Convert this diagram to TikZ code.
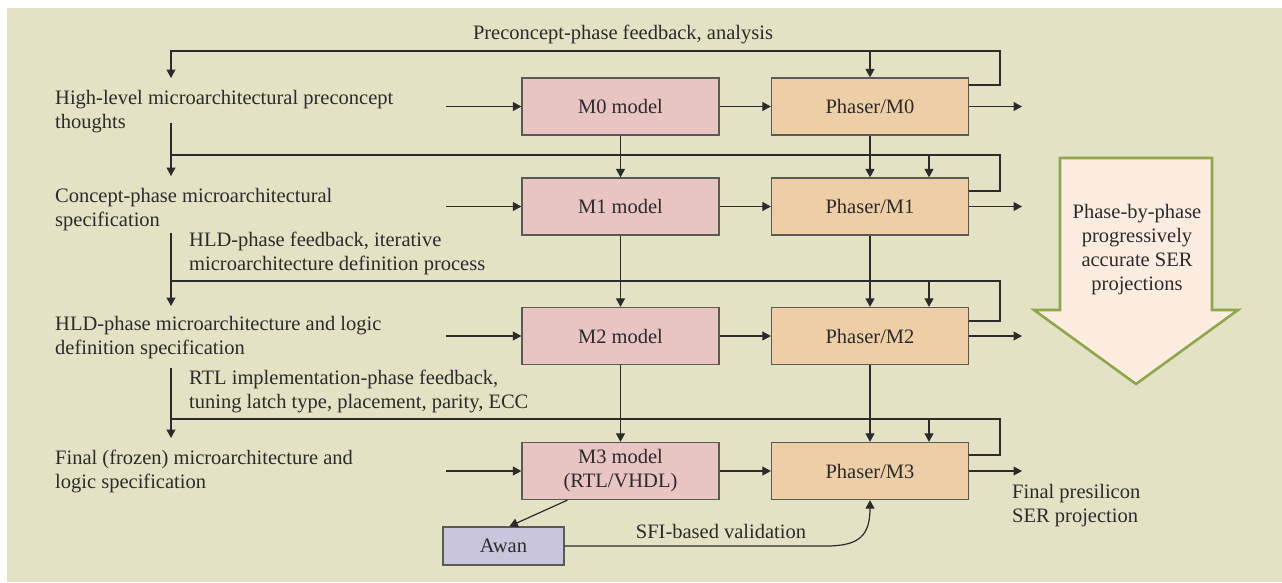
\documentclass[tikz,border=0pt]{standalone}
\usepackage{fontspec}
\setmainfont{Liberation Serif}
\usetikzlibrary{arrows.meta}
\definecolor{bgc}{HTML}{E3E2C5}
\definecolor{modelc}{HTML}{E8C4C3}
\definecolor{phasec}{HTML}{EECEA6}
\definecolor{awanc}{HTML}{C9C5DD}
\definecolor{bigfill}{HTML}{FDEDE1}
\definecolor{bigedge}{HTML}{8DA84A}
\definecolor{ink}{HTML}{2B2B2B}
\definecolor{edgec}{HTML}{5A5A55}
\begin{document}
\begin{tikzpicture}[x=1pt,y=-1pt,
  font=\fontsize{20.5}{24}\selectfont,
  box/.style={draw=edgec, line width=1.3pt, minimum width=197pt, minimum height=57pt, inner sep=0pt, align=center, text=ink},
  model/.style={box, fill=modelc},
  phaser/.style={box, fill=phasec},
  lbl/.style={align=left, anchor=west, inner sep=0pt, text=ink},
  ctr/.style={align=center, inner sep=0pt, text=ink},
  ln/.style={draw=ink, line width=1.2pt},
  arr/.style={ln, -{Triangle[length=8.5pt,width=9pt]}}]
\useasboundingbox (0,0) rectangle (1282,582);
\fill[white] (0,0) rectangle (1282,582);
\fill[bgc] (7,8) rectangle (1282,582);

% big arrow
\draw[draw=bigedge, fill=bigfill, line width=2.6pt, line join=miter]
  (1060,158) -- (1212,158) -- (1212,310) -- (1238,310) -- (1136,384) -- (1034,310) -- (1060,310) -- cycle;
\node[ctr] (big) at (1137,250) {Phase-by-phase\\progressively\\accurate SER\\projections};

% boxes
\node[model] (m0) at (620.5,106.5) {M0 model};
\node[phaser] (p0) at (870,106.5) {Phaser/M0};
\node[model] (m1) at (620.5,206.5) {M1 model};
\node[phaser] (p1) at (870,206.5) {Phaser/M1};
\node[model] (m2) at (620.5,336) {M2 model};
\node[phaser] (p2) at (870,336) {Phaser/M2};
\node[model] (m3) at (620.5,471) {M3 model\\(RTL/VHDL)};
\node[phaser] (p3) at (870,471) {Phaser/M3};
\node[box, fill=awanc, minimum width=121pt, minimum height=38pt] (awan) at (503.5,546) {Awan};

% labels
\node[ctr] (fb0) at (623,34) {Preconcept-phase feedback, analysis};
\node[lbl] (t0) at (55,112) {High-level microarchitectural preconcept\\thoughts};
\node[lbl] (t1) at (55,210) {Concept-phase microarchitectural\\specification};
\node[lbl] (fb1) at (189,253) {HLD-phase feedback, iterative\\microarchitecture definition process};
\node[lbl] (t2) at (55,338) {HLD-phase microarchitecture and logic\\definition specification};
\node[lbl] (fb2) at (189,391) {RTL implementation-phase feedback,\\tuning latch type, placement, parity, ECC};
\node[lbl] (t3) at (55,471) {Final (frozen) microarchitecture and\\logic specification};
\node[lbl] (fin) at (1012,506) {Final presilicon\\SER projection};
\node[ctr] (sfi) at (721,531) {SFI-based validation};

% inputs
\coordinate (i0) at (446,106.5);
\coordinate (i1) at (446,206.5);
\coordinate (i2) at (446,336);
\coordinate (i3) at (446,471);
\draw[arr] (i0) -- (m0.west);
\draw[arr] (i1) -- (m1.west);
\draw[arr] (i2) -- (m2.west);
\draw[arr] (i3) -- (m3.west);

% model -> phaser
\draw[arr] (m0) -- (p0);
\draw[arr] (m1) -- (p1);
\draw[arr] (m2) -- (p2);
\draw[arr] (m3) -- (p3);

% outputs
\coordinate (o0) at (1022,106.5);
\coordinate (o1) at (1022,206.5);
\coordinate (o2) at (1022,336);
\coordinate (o3) at (1022,471);
\draw[arr] (p0.east) -- (o0);
\draw[arr] (p1.east) -- (o1);
\draw[arr] (p2.east) -- (o2);
\draw[arr] (p3.east) -- (o3);

% vertical model / phaser chains
\draw[arr] (m0.south) -- (m1.north);
\draw[arr] (m1.south) -- (m2.north);
\draw[arr] (m2.south) -- (m3.north);
\draw[arr] (p0.south) -- (p1.north);
\draw[arr] (p1.south) -- (p2.north);
\draw[arr] (p2.south) -- (p3.north);

% loop 0
\coordinate (r0) at (1000,85);
\coordinate (u0) at (1000,51);
\coordinate (l0) at (171,51);
\coordinate (b0) at (870,51);
\coordinate (a0) at (171,78);
\draw[arr] (p0.east |- r0) -- (r0) -- (u0) -- (l0) -- (a0);
\draw[arr] (b0) -- (p0.north);

% loop 1
\coordinate (r1) at (1000,191);
\coordinate (u1) at (1000,155);
\coordinate (l1) at (171,155);
\coordinate (b1) at (929,155);
\coordinate (s1) at (171,123);
\coordinate (a1) at (171,176);
\draw[ln] (p1.east |- r1) -- (r1) -- (u1) -- (l1);
\draw[arr] (b1) -- (b1 |- p1.north);
\draw[arr] (s1) -- (a1);

% loop 2
\coordinate (r2) at (1000,321);
\coordinate (u2) at (1000,281);
\coordinate (l2) at (171,281);
\coordinate (b2) at (929,281);
\coordinate (s2) at (171,233);
\coordinate (a2) at (171,306);
\draw[ln] (p2.east |- r2) -- (r2) -- (u2) -- (l2);
\draw[arr] (b2) -- (b2 |- p2.north);
\draw[arr] (s2) -- (a2);

% loop 3
\coordinate (r3) at (1000,455);
\coordinate (u3) at (1000,419);
\coordinate (l3) at (171,419);
\coordinate (b3) at (929,419);
\coordinate (s3) at (171,368);
\coordinate (a3) at (171,438);
\draw[ln] (p3.east |- r3) -- (r3) -- (u3) -- (l3);
\draw[arr] (b3) -- (b3 |- p3.north);
\draw[arr] (s3) -- (a3);

% Awan
\draw[arr] ([xshift=46pt]m3.south west) -- ([xshift=67pt]awan.north west);
\coordinate (c1) at (826,546);
\coordinate (c2) at (870,508);
\draw[arr] (awan.east) -- (c1) .. controls (860,546) and (870,535) .. (c2) -- (p3.south);
\end{tikzpicture}
\end{document}
